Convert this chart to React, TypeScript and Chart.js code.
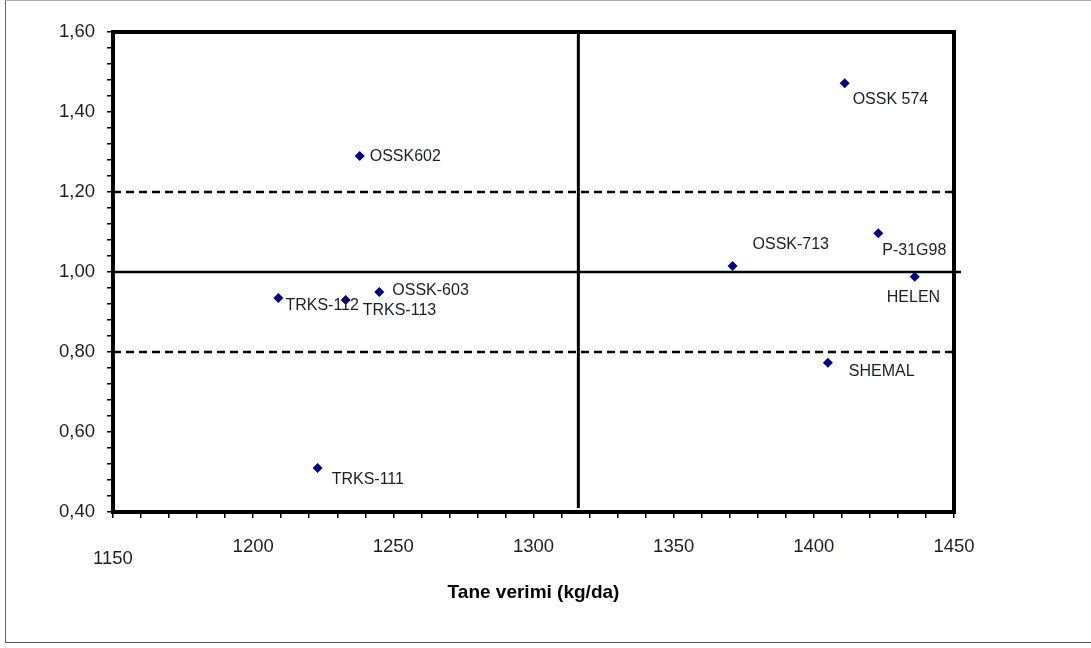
import React, { useEffect, useRef } from 'react';
import { Chart, registerables } from 'chart.js';

Chart.register(...registerables);

const genotypes = ['OSSK 574', 'OSSK602', 'OSSK-713', 'P-31G98', 'HELEN', 'SHEMAL', 'OSSK-603', 'TRKS-112', 'TRKS-113', 'TRKS-111'];
const yieldValues = [1411, 1238, 1371, 1423, 1436, 1405, 1245, 1209, 1233, 1223];
const stabilityValues = [1.472, 1.29, 1.015, 1.097, 0.988, 0.773, 0.95, 0.935, 0.93, 0.51];

const xTickValues = [1150, 1200, 1250, 1300, 1350, 1400, 1450];
const yTickValues = [0.4, 0.6, 0.8, 1.0, 1.2, 1.4, 1.6];

const meanYield = 1316;
const meanYieldRange = [0.41, 1.6];
const meanStability = 1.0;
const meanStabilityRange = [1150, 1452.5];
const upperLimit = 1.2;
const lowerLimit = 0.8;
const limitRange = [1150, 1451];

// label placement (pixels relative to the marker)
const labelOffsets: [number, number][] = [
  [8, 16], [10, 1], [20, -21], [4, 17], [-28, 21], [21, 9], [13, -1], [7, 8], [17, 11], [14, 12],
];

const FONT = '"Liberation Sans", Arial, sans-serif';
const TEXT = '#1e1e2a';

const labelPlugin = {
  id: 'pointLabels',
  afterDatasetsDraw(chart: any) {
    const { ctx } = chart;
    const meta = chart.getDatasetMeta(0);
    ctx.save();
    ctx.font = `16px ${FONT}`;
    ctx.fillStyle = TEXT;
    ctx.textAlign = 'left';
    ctx.textBaseline = 'middle';
    meta.data.forEach((pt: any, i: number) => {
      const [dx, dy] = labelOffsets[i];
      ctx.fillText(genotypes[i], pt.x + dx, pt.y + dy);
    });
    ctx.restore();
  },
};

const framePlugin = {
  id: 'plotFrame',
  afterDatasetsDraw(chart: any) {
    const { ctx, chartArea } = chart;
    ctx.save();
    ctx.strokeStyle = '#000';
    ctx.lineWidth = 4;
    ctx.strokeRect(chartArea.left, chartArea.top, chartArea.right - chartArea.left, chartArea.bottom - chartArea.top);
    ctx.restore();
  },
};

const isMajor = (v: number, list: number[]) => list.some((t) => Math.abs(t - v) < 1e-6);

export default function App() {
  const ref = useRef<HTMLCanvasElement | null>(null);

  useEffect(() => {
    if (!ref.current) return;
    const chart = new Chart(ref.current, {
      type: 'scatter',
      data: {
        datasets: [
          {
            label: 'Genotipler',
            data: yieldValues.map((x, i) => ({ x, y: stabilityValues[i] })),
            pointStyle: 'rectRot',
            pointRadius: 5,
            pointBackgroundColor: '#000080',
            pointBorderColor: '#000080',
            pointBorderWidth: 0,
            showLine: false,
            order: 0,
          },
          {
            label: 'mean yield',
            data: meanYieldRange.map((y) => ({ x: meanYield, y })),
            showLine: true,
            borderColor: '#000',
            borderWidth: 3,
            pointRadius: 0,
            order: 1,
          },
          {
            label: 'mean stability',
            data: meanStabilityRange.map((x) => ({ x, y: meanStability })),
            showLine: true,
            borderColor: '#000',
            borderWidth: 2.5,
            pointRadius: 0,
            clip: false,
            order: 1,
          },
          {
            label: 'upper',
            data: limitRange.map((x) => ({ x, y: upperLimit })),
            showLine: true,
            borderColor: '#000',
            borderWidth: 2.5,
            borderDash: [8, 5],
            pointRadius: 0,
            clip: false,
            order: 1,
          },
          {
            label: 'lower',
            data: limitRange.map((x) => ({ x, y: lowerLimit })),
            showLine: true,
            borderColor: '#000',
            borderWidth: 2.5,
            borderDash: [8, 5],
            pointRadius: 0,
            clip: false,
            order: 1,
          },
        ],
      },
      options: {
        animation: false,
        responsive: false,
        maintainAspectRatio: false,
        events: [],
        layout: { padding: { left: 0, top: 32, right: 137, bottom: 36 } },
        plugins: {
          legend: { display: false },
          tooltip: { enabled: false },
        },
        scales: {
          x: {
            type: 'linear',
            min: 1150,
            max: 1450,
            afterFit: (s: any) => { s.height = 100; },
            border: { display: false },
            grid: { display: true, drawOnChartArea: false, drawTicks: true, tickLength: 6, color: '#000', lineWidth: 1.5 },
            ticks: {
              stepSize: 10,
              autoSkip: false,
              maxRotation: 0,
              padding: 18,
              color: TEXT,
              font: (c: any) => ({
                family: FONT,
                size: 18.5,
                lineHeight: c.tick && Math.abs(c.tick.value - xTickValues[0]) < 1e-6 ? '15px' : 1.2,
              }),
              callback: (v: any) => {
                const n = Number(v);
                if (!isMajor(n, xTickValues)) return '';
                return n === xTickValues[0] ? ['', String(n)] : String(n);
              },
            },
            title: {
              display: true,
              text: 'Tane verimi (kg/da)',
              color: '#000',
              font: { family: FONT, size: 19, weight: 'bold' },
              padding: { top: 0, bottom: 8 },
            },
          },
          y: {
            type: 'linear',
            min: 0.4,
            max: 1.6,
            afterFit: (s: any) => { s.width = 113; },
            border: { display: false },
            grid: { display: true, drawOnChartArea: false, drawTicks: true, tickLength: 6, color: '#000', lineWidth: 1.5 },
            ticks: {
              stepSize: 0.04,
              autoSkip: false,
              padding: 12,
              color: TEXT,
              font: { family: FONT, size: 18.5 },
              callback: (v: any) => {
                const n = Number(v);
                return isMajor(n, yTickValues) ? n.toFixed(2).replace('.', ',') : '';
              },
            },
          },
        },
      } as any,
      plugins: [labelPlugin, framePlugin],
    });
    return () => chart.destroy();
  }, []);

  return (
    <div style={{ position: 'absolute', left: 0, top: 0, width: 1091, height: 648, background: '#fff', overflow: 'hidden' }}>
      <div
        style={{
          position: 'absolute', left: 5, top: 0, width: 1086, height: 643, boxSizing: 'border-box',
          borderLeft: '1px solid #666', borderTop: '1px solid #aaa', borderBottom: '1px solid #555',
        }}
      />
      <canvas ref={ref} width={1091} height={648} style={{ position: 'absolute', left: 0, top: 0, width: 1091, height: 648 }} />
    </div>
  );
}
